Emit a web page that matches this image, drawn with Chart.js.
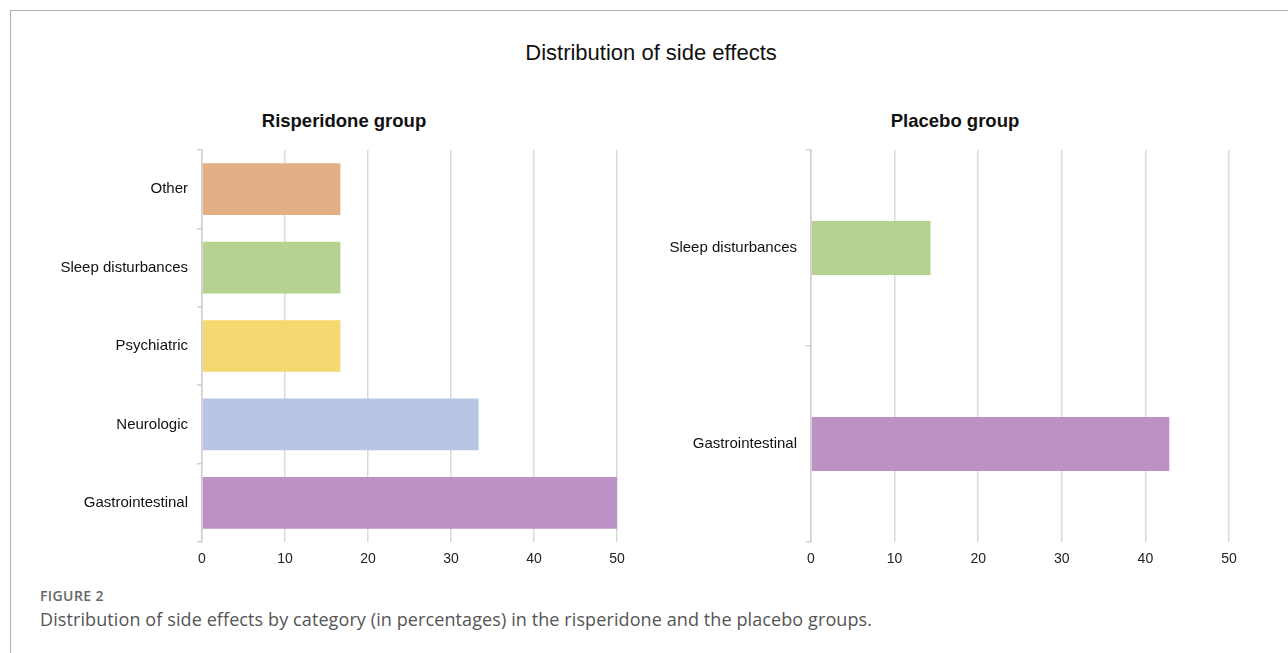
<!DOCTYPE html>
<html>
<head>
<meta charset="utf-8">
<script src="https://cdn.jsdelivr.net/npm/chart.js@4"></script>
<style>
  html, body { margin: 0; padding: 0; background: #fff; }
  body { width: 1288px; height: 653px; position: relative; overflow: hidden; font-family: "Liberation Sans", Arial, sans-serif; }
  .frame { position: absolute; left: 10px; top: 10px; right: -2px; bottom: -2px; border-top: 1px solid #b0b0b0; border-left: 1px solid #b0b0b0; }
  .main-title { position: absolute; left: 0; width: 1302px; top: 40px; text-align: center; font-size: 22px; color: #111; }
  .group-title { position: absolute; top: 110px; width: 400px; text-align: center; font-size: 18.5px; font-weight: bold; color: #111; }
  .chart-box { position: absolute; top: 132px; height: 448px; }
  #left-box { left: 40px; width: 608px; }
  #right-box { left: 650px; width: 610px; }
  .fig-label { position: absolute; left: 40px; top: 586px; font-family: "Open Sans", Lato, sans-serif; font-size: 14px; font-weight: 600; letter-spacing: 0.4px; color: #666; }
  .caption { position: absolute; left: 40px; top: 607px; font-family: "Open Sans", Lato, sans-serif; font-size: 18px; letter-spacing: 0.1px; color: #555; }
</style>
</head>
<body>
<div class="frame"></div>
<div class="main-title">Distribution of side effects</div>
<div class="group-title" style="left:144px">Risperidone group</div>
<div class="group-title" style="left:755px">Placebo group</div>
<div class="chart-box" id="left-box"><canvas id="left-chart"></canvas></div>
<div class="chart-box" id="right-box"><canvas id="right-chart"></canvas></div>
<div class="fig-label">FIGURE 2</div>
<div class="caption">Distribution of side effects by category (in percentages) in the risperidone and the placebo groups.</div>

<script>
// Risperidone group (percent of side effects)
const risperidoneLabels = ['Other', 'Sleep disturbances', 'Psychiatric', 'Neurologic', 'Gastrointestinal'];
const risperidoneValues = [16.67, 16.67, 16.67, 33.33, 50];
const risperidoneColors = ['#e3af84', '#b5d291', '#f4d870', '#b8c5e4', '#bc91c6'];

// Placebo group
const placeboLabels = ['Sleep disturbances', 'Gastrointestinal'];
const placeboValues = [14.29, 42.86];
const placeboColors = ['#b5d291', '#bc91c6'];

const xTicks = [0, 10, 20, 30, 40, 50];

function makeChart(id, labels, values, colors, barPct, axisWidth) {
  const ctx = document.getElementById(id).getContext('2d');
  return new Chart(ctx, {
    type: 'bar',
    data: {
      labels: labels,
      datasets: [{
        data: values,
        backgroundColor: colors,
        borderWidth: 0,
        categoryPercentage: 1,
        barPercentage: barPct,
      }]
    },
    options: {
      indexAxis: 'y',
      responsive: true,
      maintainAspectRatio: false,
      animation: false,
      layout: { padding: { right: 31, left: 0, top: 0, bottom: 0 } },
      plugins: {
        legend: { display: false },
        tooltip: { enabled: false }
      },
      scales: {
        x: {
          min: 0,
          max: 50,
          afterBuildTicks: scale => { scale.ticks = xTicks.map(v => ({ value: v })); },
          afterFit: scale => { scale.height = 38; },
          border: { display: false },
          grid: { color: '#d9d9d9', lineWidth: 1.5, drawTicks: false },
          ticks: {
            padding: 9,
            color: '#222',
            font: { family: '"Liberation Sans", Arial, sans-serif', size: 14 }
          }
        },
        y: {
          afterFit: scale => { scale.width = axisWidth; },
          border: { display: true, color: '#d0d0d0', width: 1.5 },
          grid: { drawOnChartArea: false, offset: true, tickLength: 5, color: '#d0d0d0', lineWidth: 1.5 },
          ticks: {
            padding: 9,
            color: '#111',
            font: { family: '"Liberation Sans", Arial, sans-serif', size: 15 }
          }
        }
      }
    }
  });
}

makeChart('left-chart', risperidoneLabels, risperidoneValues, risperidoneColors, 0.66, 162);
makeChart('right-chart', placeboLabels, placeboValues, placeboColors, 0.275, 161);
</script>
</body>
</html>
